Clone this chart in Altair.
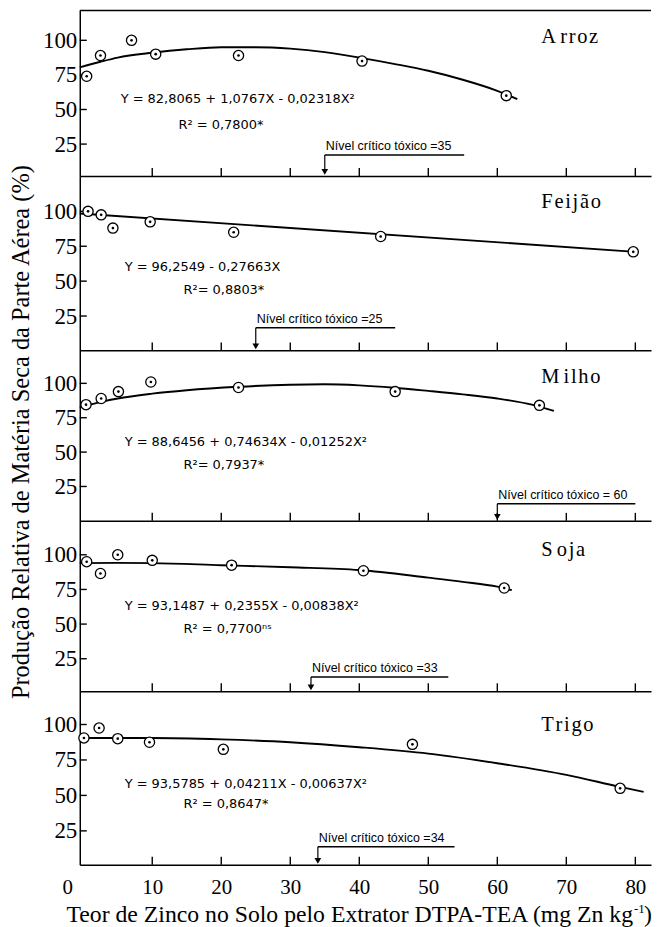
import altair as alt
import pandas as pd

# ---------------- data ----------------
crops = ["Arroz", "Feijão", "Milho", "Soja", "Trigo"]
crop_labels = [
    "A\u2009r\u200ar\u200ao\u200az",
    "F\u200ae\u200ai\u200aj\u200aã\u200ao",
    "M\u2009i\u200al\u200ah\u200ao",
    "S\u2009o\u200aj\u200aa",
    "T\u200ar\u200ai\u200ag\u200ao",
]

# observed points (x = mg Zn/kg, y = %)
arroz_x = [0.5, 2.5, 7.0, 10.5, 22.5, 40.4, 61.3]
arroz_y = [74, 89, 100, 90, 89, 85, 60]
feijao_x = [0.7, 2.6, 4.3, 9.7, 21.8, 43.1, 79.7]
feijao_y = [100, 97.5, 88, 92.5, 85, 82, 71]
milho_x = [0.4, 2.6, 5.1, 9.8, 22.5, 45.2, 66.1]
milho_y = [84.5, 89, 94, 101, 97, 94, 84]
soja_x = [0.5, 2.5, 5.0, 10.0, 21.5, 40.6, 61.0]
soja_y = [95, 86.5, 100, 96, 92.5, 88.5, 76]
trigo_x = [0.1, 2.3, 5.0, 9.6, 20.3, 47.7, 77.8]
trigo_y = [90.5, 97.5, 90, 87.5, 82.5, 86, 55]

# fitted curves as drawn
arroz_cx = [-0.5, 2.5, 5, 10, 15, 20, 25, 30, 35, 40, 45, 50, 55, 60, 62.9]
arroz_cy = [80.5, 84.5, 87.5, 91, 93.5, 95, 95, 94, 91.5, 87.5, 83, 78, 71.5, 63.5, 57.5]
feijao_cx = [-0.5, 80]
feijao_cy = [98.5, 71]
milho_cx = [-0.5, 2.6, 5, 10, 15, 22.5, 30, 35, 40, 45, 50, 55, 60, 65, 68.2]
milho_cy = [82.5, 86.5, 89, 92.5, 95, 97.5, 99, 99.3, 98.5, 96.8, 94.5, 92, 89, 84.5, 80]
soja_cx = [-0.5, 5, 10, 20, 30, 40, 50, 55, 60, 62.1]
soja_cy = [94, 94.2, 94, 92.5, 91, 89, 83.5, 80.5, 77, 74.5]
trigo_cx = [-0.5, 10, 20, 30, 40, 50, 60, 70, 77.8, 81.2]
trigo_cy = [90.5, 90.5, 89.5, 87.5, 84, 79.5, 72.7, 64.5, 56, 52.5]

pts_x = [arroz_x, feijao_x, milho_x, soja_x, trigo_x]
pts_y = [arroz_y, feijao_y, milho_y, soja_y, trigo_y]
crv_x = [arroz_cx, feijao_cx, milho_cx, soja_cx, trigo_cx]
crv_y = [arroz_cy, feijao_cy, milho_cy, soja_cy, trigo_cy]

# critical toxic level
crit_value = [35, 25, 60, 33, 34]
crit_end = [55.2, 45.2, 80, 52.9, 53.8]
crit_level = [17.1, 16.6, 12.4, 11.8, 13.8]
crit_text = [
    "Nível crítico tóxico =35",
    "Nível crítico tóxico =25",
    "Nível crítico tóxico = 60",
    "Nível crítico tóxico =33",
    "Nível crítico tóxico =34",
]

eq_text = [
    "Y = 82,8065 + 1,0767X - 0,02318X²",
    "Y = 96,2549 - 0,27663X",
    "Y = 88,6456 + 0,74634X - 0,01252X²",
    "Y = 93,1487 + 0,2355X - 0,00838X²",
    "Y = 93,5785 + 0,04211X - 0,00637X²",
]
r2_text = ["R² = 0,7800*", "R²= 0,8803*", "R²= 0,7937*", "R² = 0,7700ⁿˢ", "R² = 0,8647*"]

x_label_values = [0, 10, 20, 30, 40, 50, 60, 70, 80]
x_ticks = [10, 20, 30, 40, 50, 60, 70, 80]
y_ticks = [25, 50, 75, 100]

y_title = "Produção Relativa de Matéria Seca da Parte Aérea (%)"
x_title = "Teor de Zinco no Solo pelo Extrator DTPA-TEA (mg Zn kg"
x_title_sup = "-1"
x_title_end = ")"

# ---------------- layout ----------------
W = 573
heights = [166, 175, 171, 171, 174]
y_domains = [[2, 121.6], [0.4, 125.4], [0, 124], [1.5, 124.5], [1.1, 123.4]]
X_DOMAIN = [-0.5, 82.27]
eq_pos = [(41, 89), (45, 91.6), (45, 91.6), (45, 85), (45, 92.6)]
r2_pos = [(99, 115), (104, 114), (104, 114.6), (104, 108.3), (104, 112.6)]
name_pos = [(463, 32.3), (463, 32.3), (463, 32.3), (463, 35.6), (463, 39.6)]

SERIF = "Liberation Serif"
EQ_FONT = "DejaVu Sans"
NOTE_FONT = "Liberation Sans"


def make_panel(i):
    h = heights[i]
    xsc = alt.Scale(domain=X_DOMAIN, nice=False, zero=False)
    ysc = alt.Scale(domain=y_domains[i], nice=False, zero=False)
    bottom = i == len(crops) - 1
    x_axis = alt.Axis(
        values=x_label_values, labels=bottom, title=None, labelFlush=False,
        labelOffset={"condition": {"test": "datum.value === 0", "value": -16}, "value": 0},
    )
    y_axis = alt.Axis(values=y_ticks, title=None)

    def X(f):
        return alt.X(f, scale=xsc, title=None)

    def Y(f):
        return alt.Y(f, scale=ysc, title=None)

    pts = pd.DataFrame({"x": pts_x[i], "y": pts_y[i]})
    crv = pd.DataFrame({"x": crv_x[i], "y": crv_y[i]})
    ann = pd.DataFrame({"x": [crit_value[i]], "x2": [crit_end[i]], "y": [crit_level[i]],
                        "label": [crit_text[i]]})
    txt = pd.DataFrame({"eq": [eq_text[i]], "r2": [r2_text[i]], "name": [crop_labels[i]]})
    xt = pd.DataFrame({"t": x_ticks})
    yt = pd.DataFrame({"t": y_ticks})

    curve = alt.Chart(crv).mark_line(color="black", strokeWidth=1.9, interpolate="monotone").encode(
        x=alt.X("x:Q", scale=xsc, axis=x_axis), y=alt.Y("y:Q", scale=ysc, axis=y_axis))
    xtick = alt.Chart(xt).mark_rule(color="black", strokeWidth=1.4).encode(
        x=X("t:Q"), y=alt.value(h), y2=alt.value(h - 8))
    ytick = alt.Chart(yt).mark_rule(color="black", strokeWidth=1.4).encode(
        y=Y("t:Q"), x=alt.value(0), x2=alt.value(7))
    circles = alt.Chart(pts).mark_point(shape="circle", size=105, filled=True, fill="white",
                                        stroke="black", strokeWidth=1.3, opacity=1).encode(
        x=X("x:Q"), y=Y("y:Q"))
    dots = alt.Chart(pts).mark_circle(size=7, color="black", opacity=1).encode(
        x=X("x:Q"), y=Y("y:Q"))
    hline = alt.Chart(ann).mark_rule(color="black", strokeWidth=1.4).encode(
        x=X("x:Q"), x2="x2:Q", y=Y("y:Q"))
    vline = alt.Chart(ann).mark_rule(color="black", strokeWidth=1.2).encode(
        x=X("x:Q"), y=Y("y:Q"), y2=alt.value(h - 4))
    arrow = alt.Chart(ann).mark_point(shape="triangle-down", filled=True, size=45,
                                      color="black", opacity=1).encode(
        x=X("x:Q"), y=alt.value(h - 4))
    note = alt.Chart(ann).mark_text(align="left", baseline="bottom", dx=1, dy=-2,
                                    font=NOTE_FONT, fontSize=12.5, color="black").encode(
        x=X("x:Q"), y=Y("y:Q"), text="label:N")
    eq = alt.Chart(txt).mark_text(align="left", baseline="middle", font=EQ_FONT,
                                  fontSize=13, color="black").encode(
        x=alt.value(eq_pos[i][0]), y=alt.value(eq_pos[i][1]), text="eq:N")
    r2 = alt.Chart(txt).mark_text(align="left", baseline="middle", font=EQ_FONT,
                                  fontSize=13, color="black").encode(
        x=alt.value(r2_pos[i][0]), y=alt.value(r2_pos[i][1]), text="r2:N")
    name = alt.Chart(txt).mark_text(align="left", baseline="alphabetic", font=SERIF,
                                    fontSize=20.5, color="black").encode(
        x=alt.value(name_pos[i][0]), y=alt.value(name_pos[i][1]), text="name:N")

    layers = [curve, xtick, ytick, hline, vline, arrow, note, eq, r2, name, circles, dots]

    if i == 0:
        top = alt.Chart(txt).mark_rule(color="black", strokeWidth=1.5).encode(
            x=alt.value(0), x2=alt.value(W), y=alt.value(0))
        layers.append(top)
    if i == 2:
        yt_df = pd.DataFrame({"t": [y_title]})
        ytitle = alt.Chart(yt_df).mark_text(angle=270, align="center", baseline="middle",
                                            font=SERIF, fontSize=24.5, color="black").encode(
            x=alt.value(-58), y=alt.value(82), text="t:N")
        layers.append(ytitle)
    if bottom:
        xt_df = pd.DataFrame({"a": [x_title], "b": [x_title_sup], "c": [x_title_end]})
        t1 = alt.Chart(xt_df).mark_text(align="right", baseline="alphabetic", font=SERIF,
                                        fontSize=23.8, color="black").encode(
            x=alt.value(555), y=alt.value(h + 57), text="a:N")
        t2 = alt.Chart(xt_df).mark_text(align="left", baseline="alphabetic", font=SERIF,
                                        fontSize=13, color="black").encode(
            x=alt.value(556), y=alt.value(h + 48), text="b:N")
        t3 = alt.Chart(xt_df).mark_text(align="left", baseline="alphabetic", font=SERIF,
                                        fontSize=23.8, color="black").encode(
            x=alt.value(566), y=alt.value(h + 57), text="c:N")
        layers += [t1, t2, t3]

    return alt.layer(*layers).properties(width=W, height=h)


chart = alt.vconcat(*[make_panel(i) for i in range(len(crops))], spacing=0,
                    bounds="flush").configure_view(
    stroke=None
).configure_axis(
    grid=False, ticks=False, domainColor="black", domainWidth=1.5,
    labelColor="black", labelFont=SERIF,
).configure_axisX(labelFontSize=21, labelPadding=12).configure_axisY(
    labelFontSize=23, labelPadding=3
).properties(padding={"left": 0, "top": 0, "right": 0, "bottom": 0})

chart.save("out.html", embed_options={"renderer": "svg", "actions": False})
